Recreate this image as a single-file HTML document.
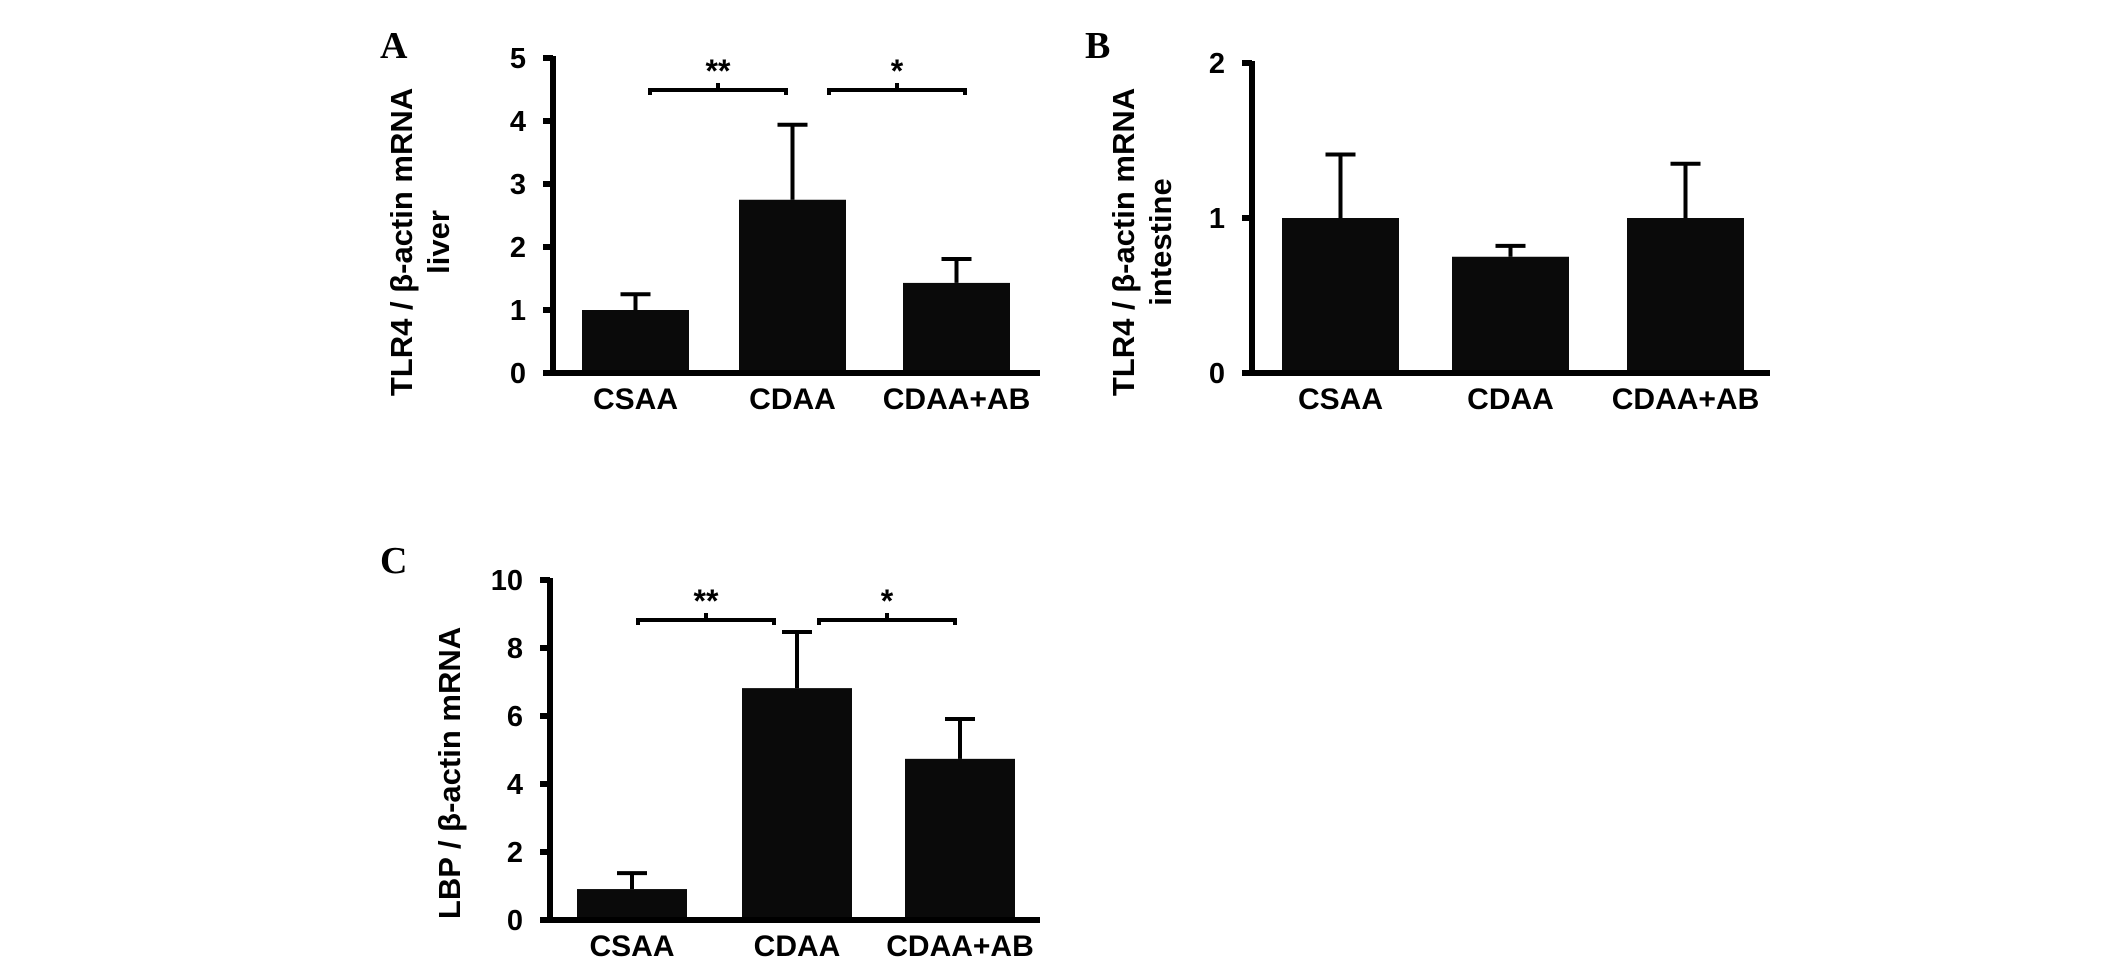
<!DOCTYPE html>
<html><head><meta charset="utf-8"><style>
html,body{margin:0;padding:0;background:#fff;}
svg{display:block;}
text{font-family:"Liberation Sans",Arial,sans-serif;font-weight:bold;fill:#000;}
.pl{font-family:"Liberation Serif","Times New Roman",serif;font-size:38px;}
</style></head><body>
<svg id="fig" width="2126" height="969" viewBox="0 0 2126 969" xmlns="http://www.w3.org/2000/svg"></svg>
<script>
const categories = ["CSAA","CDAA","CDAA+AB"];
const liverValues = [1.0, 2.75, 1.43];
const liverErrors = [0.25, 1.19, 0.38];
const liverTicks = [0,1,2,3,4,5];
const intestineValues = [1.0, 0.75, 1.0];
const intestineErrors = [0.41, 0.07, 0.35];
const intestineTicks = [0,1,2];
const lbpValues = [0.91, 6.82, 4.74];
const lbpErrors = [0.47, 1.65, 1.17];
const lbpTicks = [0,2,4,6,8,10];
const sigLabels = ["**","*"];

const NS = "http://www.w3.org/2000/svg";
const svg = document.getElementById("fig");
function mk(tag, attrs, parent){const e=document.createElementNS(NS,tag);for(const k in attrs)e.setAttribute(k,attrs[k]);(parent||svg).appendChild(e);return e;}

function panel(o){
  const g = mk("g",{});
  
  
  const y = v => o.y0 - (v - 0) / o.max * (o.y0 - o.yTop);
  const barX = i => o.barStarts[i];
  const L = mk("text",{x:o.letterX,y:o.letterY,class:"pl"},g); L.textContent=o.letter;
  
  
  const t = mk("text",{transform:`translate(${o.titleX},${o.titleY}) rotate(-90)`,"text-anchor":"middle","font-size":31},g);
  
  
  o.titleLines.forEach((ln,i)=>{const ts=mk("tspan",{x:0,y:i*37},t);ts.textContent=ln;});
  o.values.forEach((v,i)=>{
    const x0=barX(i), cx=x0+o.barW/2;
    const r=mk("rect",{x:x0,y:y(v),width:o.barW,height:o.y0-y(v),fill:"#0a0a0a"},g);
    
    
    const e=mk("path",{d:`M${cx} ${y(v)}V${y(v+o.errors[i])}M${cx-15} ${y(v+o.errors[i])}H${cx+15}`,stroke:"#000","stroke-width":4,fill:"none"},g);
    
    
    const lab=mk("text",{x:cx,y:o.y0+36,"text-anchor":"middle","font-size":30},g);
    lab.textContent=categories[i];
    
    
  });
  const ax=mk("path",{d:`M${o.axisX} ${o.yTop-2}V${o.y0}H${o.axisEnd}`,stroke:"#000","stroke-width":6,fill:"none"},g);
  
  
  o.ticks.forEach(tv=>{
    const tk=mk("line",{x1:o.axisX-10,x2:o.axisX,y1:y(tv),y2:y(tv),stroke:"#000","stroke-width":6},g);
    
    
    const tl=mk("text",{x:o.axisX-27,y:y(tv)+10,"text-anchor":"end","font-size":29},g);
    tl.textContent=tv;
    
    
  });
  (o.brackets||[]).forEach((b,i)=>{
    const p=mk("path",{d:`M${b[0]} ${o.brY+5}V${o.brY}H${b[1]}V${o.brY+5}M${(b[0]+b[1])/2} ${o.brY}V${o.brY-7}`,stroke:"#000","stroke-width":4,fill:"none"},g);
    
    
    const s=mk("text",{x:(b[0]+b[1])/2,y:o.brY-8,"text-anchor":"middle","font-size":32,"font-weight":"normal"},g);
    s.textContent=sigLabels[i];
    
    
  });
}

panel({name:"panel-a-liver-tlr4",letter:"A",letterX:380,letterY:58,titleX:412,titleY:242,titleLines:["TLR4 / β-actin mRNA","liver"],
  values:liverValues,errors:liverErrors,ticks:liverTicks,max:5,y0:373,yTop:58,axisX:553,axisEnd:1040,
  barStarts:[582,739,903],barW:107,brY:90,brackets:[[650,786],[829,965]]});
panel({name:"panel-b-intestine-tlr4",letter:"B",letterX:1085,letterY:58,titleX:1134,titleY:242,titleLines:["TLR4 / β-actin mRNA","intestine"],
  values:intestineValues,errors:intestineErrors,ticks:intestineTicks,max:2,y0:373,yTop:63,axisX:1252,axisEnd:1770,
  barStarts:[1282,1452,1627],barW:117});
panel({name:"panel-c-lbp",letter:"C",letterX:380,letterY:573,titleX:460,titleY:773,titleLines:["LBP / β-actin mRNA"],
  values:lbpValues,errors:lbpErrors,ticks:lbpTicks,max:10,y0:920,yTop:580,axisX:550,axisEnd:1040,
  barStarts:[577,742,905],barW:110,brY:620,brackets:[[638,774],[819,955]]});
</script>
</body></html>
